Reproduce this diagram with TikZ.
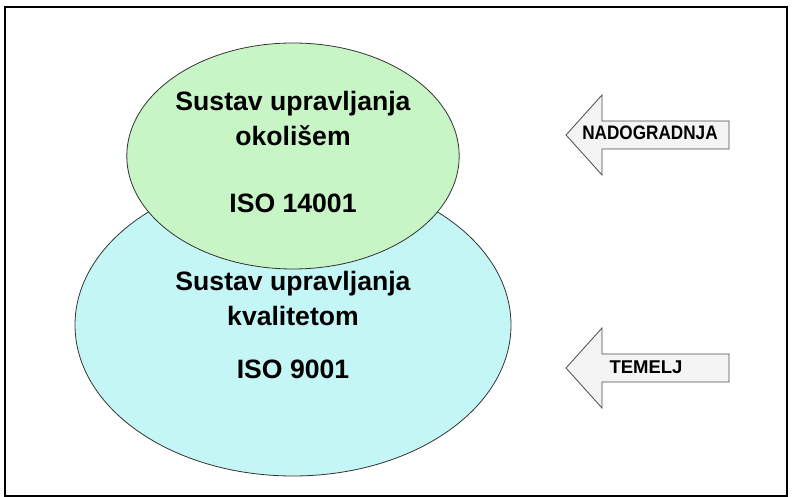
\documentclass[tikz,border=0pt]{standalone}
\usepackage{fontspec}
\setmainfont{Liberation Sans}
\usetikzlibrary{shapes.geometric,positioning}
\definecolor{okolis}{RGB}{199,245,198}
\definecolor{kvaliteta}{RGB}{197,246,246}
\definecolor{sivapozadina}{RGB}{244,244,244}
\tikzset
{
    sustav/.style   = {ellipse, draw=black!80, line width=0.8pt, inner sep=0pt, align=center, font=\bfseries\fontsize{26.6}{35}\selectfont},
    oznaka/.style   = {font=\bfseries\fontsize{#1}{20}\selectfont, inner sep=0pt},
    strelica/.style = {draw=black!70, fill=sivapozadina, line width=0.8pt, line join=miter},
    okvir/.style    = {draw=black, line width=2pt}
}

\begin{document}
\begin{tikzpicture}[x=1pt, y=1pt]
	 \newcommand\lijevastrelica[1]{%
	   \draw[strelica, shift={(#1)}] (0,0) -- (36,40) -- (36,14) -- (163,14) -- (163,-14) -- (36,-14) -- (36,-40) -- cycle;}

   \useasboundingbox (0,0) rectangle (793,497);
   \draw[okvir] (5,490) rectangle (787,1);

   % temelj i nadogradnja
   \node (kval) [sustav, fill=kvaliteta, minimum width=436, minimum height=302] at (293,172)
        {Sustav upravljanja\\ kvalitetom\\[18pt] ISO 9001};
   \node (okol) [sustav, fill=okolis, minimum width=328, minimum height=226] at (293,341)
        {Sustav upravljanja\\ okolišem\\[32pt] ISO 14001\rule[-8pt]{0pt}{0pt}};

   % strelice
   \coordinate (nadtip) at (566,362);
   \coordinate (temtip) at (566,129);
   \lijevastrelica{nadtip}
   \lijevastrelica{temtip}
   \node (nad) [oznaka=19.5] at ([shift=({84, 2})]nadtip) {\scalebox{0.88}[1]{NADOGRADNJA}};
   \node (tem) [oznaka=18.5] at ([shift=({80, 1})]temtip) {TEMELJ};
\end{tikzpicture}
\end{document}
